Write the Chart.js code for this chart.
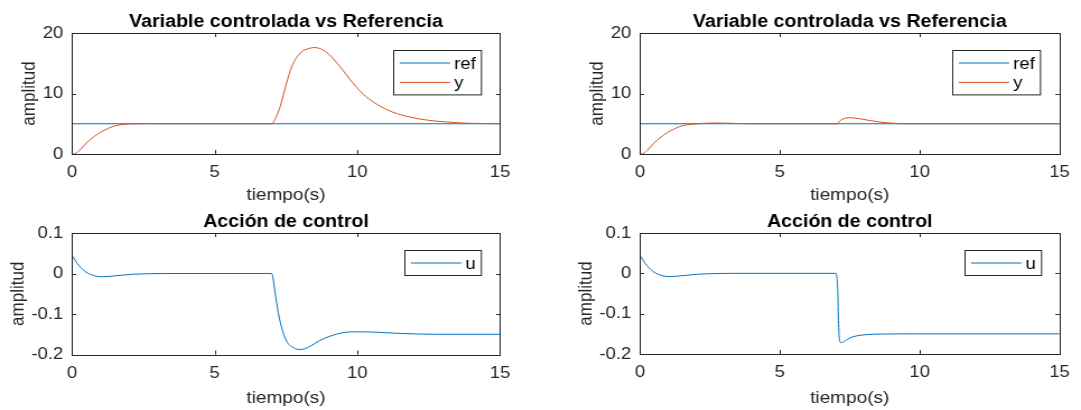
<!DOCTYPE html>
<html>
<head>
<meta charset="utf-8">
<script src="https://cdn.jsdelivr.net/npm/chart.js@4/dist/chart.umd.min.js"></script>
<style>
  body { margin: 0; background: #fff; width: 1081px; height: 410px; overflow: hidden; }
  .panel { position: absolute; transform: scaleX(1.12); transform-origin: 0 0; }
  canvas { display: block; }
</style>
</head>
<body>
<div class="panel" style="left:0;top:0"><canvas id="c1" width="482" height="207"></canvas></div>
<div class="panel" style="left:540px;top:0"><canvas id="c2" width="482" height="207"></canvas></div>
<div class="panel" style="left:0;top:207px"><canvas id="c3" width="482" height="203"></canvas></div>
<div class="panel" style="left:540px;top:207px"><canvas id="c4" width="482" height="203"></canvas></div>
<script>
// data
const refT = [0, 15];
const refY = [5, 5];

const y1T = [0, 0.1, 0.25, 0.5, 0.75, 1.0, 1.25, 1.5, 1.75, 2.0, 2.3, 2.7, 3.2, 7.0, 7.15, 7.3, 7.5, 7.7, 8.0, 8.25, 8.5, 8.75, 9.0, 9.4, 9.85, 10.3, 10.8, 11.25, 11.85, 12.45, 13.1, 13.8, 14.5, 15];
const y1 = [0, 0.05, 0.55, 1.8, 2.8, 3.6, 4.2, 4.65, 4.87, 4.97, 5.0, 5.02, 5.0, 5.0, 6.1, 7.9, 11.4, 14.4, 16.7, 17.35, 17.6, 17.3, 16.5, 14.4, 11.7, 9.5, 7.9, 6.9, 6.1, 5.6, 5.3, 5.1, 5.03, 5.0];

const y2T = [0, 0.1, 0.25, 0.5, 0.75, 1.0, 1.25, 1.5, 1.75, 2.0, 2.4, 2.8, 3.4, 4.0, 7.05, 7.15, 7.3, 7.5, 7.8, 8.2, 8.6, 9.0, 9.5, 15];
const y2 = [0, 0.05, 0.55, 1.8, 2.8, 3.6, 4.2, 4.65, 4.87, 4.98, 5.1, 5.12, 5.05, 5.0, 5.0, 5.5, 5.85, 6.0, 5.87, 5.55, 5.27, 5.1, 5.0, 5.0];

const u1T = [0, 0.25, 0.5, 0.75, 1.0, 1.3, 1.7, 2.1, 2.6, 3.2, 7.0, 7.12, 7.23, 7.35, 7.52, 7.76, 8.0, 8.34, 8.69, 9.04, 9.5, 10.0, 10.7, 11.5, 12.7, 15];
const u1 = [0.044, 0.019, 0.003, -0.005, -0.008, -0.0072, -0.0045, -0.002, -0.0007, 0, 0, -0.048, -0.097, -0.134, -0.167, -0.183, -0.188, -0.18, -0.165, -0.155, -0.146, -0.144, -0.145, -0.148, -0.15, -0.15];

const u2T = [0, 0.25, 0.5, 0.75, 1.0, 1.3, 1.7, 2.1, 2.6, 3.2, 7.0, 7.07, 7.1, 7.14, 7.19, 7.34, 7.51, 7.75, 8.1, 8.7, 10, 15];
const u2 = [0.044, 0.019, 0.003, -0.005, -0.008, -0.0072, -0.0045, -0.002, -0.0007, 0, 0, -0.042, -0.125, -0.167, -0.172, -0.167, -0.16, -0.155, -0.152, -0.1505, -0.15, -0.15];

const xTicks = [0, 5, 10, 15];
const xTickLabels = ['0', '5', '10', '15'];
const yTicksTop = [0, 10, 20];
const yTickLabelsTop = ['0', '10', '20'];
const yTicksBot = [-0.2, -0.1, 0, 0.1];
const yTickLabelsBot = ['-0.2', '-0.1', '0', '0.1'];

const blue = '#0072BD';
const orange = '#D95319';
const ink = '#262626';
const fam = '"Liberation Sans", Arial, Helvetica, sans-serif';

Chart.defaults.font.family = fam;
Chart.defaults.color = ink;

function pts(t, v) {
  return t.map((x, i) => ({x: x, y: v[i]}));
}

// box, inward ticks, title and legend drawn like the original
const framePlugin = {
  id: 'frame',
  afterDatasetsDraw(chart, args, opts) {
    const ctx = chart.ctx;
    const a = chart.chartArea;
    const sx = chart.scales.x, sy = chart.scales.y;
    ctx.save();
    ctx.strokeStyle = ink;
    ctx.lineWidth = 1;
    ctx.beginPath();
    sx.ticks.forEach(t => {
      const p = Math.round(sx.getPixelForValue(t.value)) + 0.5;
      ctx.moveTo(p, a.bottom); ctx.lineTo(p, a.bottom - 4);
      ctx.moveTo(p, a.top); ctx.lineTo(p, a.top + 4);
    });
    sy.ticks.forEach(t => {
      const p = Math.round(sy.getPixelForValue(t.value)) + 0.5;
      ctx.moveTo(a.left, p); ctx.lineTo(a.left + 3.6, p);
      ctx.moveTo(a.right, p); ctx.lineTo(a.right - 3.6, p);
    });
    ctx.stroke();
    ctx.strokeRect(Math.round(a.left) + 0.5, Math.round(a.top) + 0.5, Math.round(a.right - a.left), Math.round(a.bottom - a.top));

    ctx.fillStyle = '#000';
    ctx.font = 'bold 17.5px ' + fam;
    ctx.textAlign = 'center';
    ctx.textBaseline = 'alphabetic';
    ctx.fillText(opts.title, (a.left + a.right) / 2, a.top - 6);

    // legend
    const sets = chart.data.datasets;
    ctx.font = '16.5px ' + fam;
    let tw = 0;
    sets.forEach(d => { tw = Math.max(tw, ctx.measureText(d.label).width); });
    const w = 5.4 + 45 + 3.6 + tw + 5.1;
    const h = 25 + (sets.length - 1) * 19.4;
    const bx = Math.round(a.right - 17 - w) + 0.5;
    const by = Math.round(a.top + 17) + 0.5;
    ctx.fillStyle = '#fff';
    ctx.fillRect(bx, by, w, h);
    ctx.strokeStyle = ink;
    ctx.strokeRect(bx, by, w, h);
    ctx.textAlign = 'left';
    ctx.textBaseline = 'middle';
    sets.forEach((d, i) => {
      const ly = by + 12.5 + i * 19.4;
      ctx.strokeStyle = d.borderColor;
      ctx.lineWidth = d.borderWidth;
      ctx.beginPath();
      ctx.moveTo(bx + 5.4, ly); ctx.lineTo(bx + 50.4, ly);
      ctx.stroke();
      ctx.fillStyle = '#000';
      ctx.fillText(d.label, bx + 54, ly + 1);
    });
    ctx.restore();
  }
};

function makeChart(id, cfg) {
  const canvas = document.getElementById(id);
  const H = canvas.height, W = canvas.width;
  return new Chart(canvas, {
    type: 'line',
    data: { datasets: cfg.datasets },
    options: {
      responsive: false,
      animation: false,
      events: [],
      layout: { padding: { left: 0, top: cfg.area.top, right: W - cfg.area.right, bottom: 0 } },
      elements: { point: { radius: 0 }, line: { cubicInterpolationMode: 'monotone' } },
      plugins: {
        legend: { display: false },
        tooltip: { enabled: false },
        frame: { title: cfg.title }
      },
      scales: {
        x: {
          type: 'linear', min: 0, max: 15,
          grid: { display: false, drawTicks: false },
          border: { display: false },
          afterBuildTicks: s => { s.ticks = xTicks.map(v => ({value: v})); },
          afterFit: s => { s.height = H - cfg.area.bottom; },
          ticks: { padding: 9, font: { size: 16.5 }, color: ink, maxRotation: 0,
                   callback: (v, i) => xTickLabels[i] },
          title: { display: true, text: 'tiempo(s)', color: ink, font: { size: 17 },
                   padding: { top: 0, bottom: 1.5 } }
        },
        y: {
          type: 'linear', min: cfg.yMin, max: cfg.yMax,
          grid: { display: false, drawTicks: false },
          border: { display: false },
          afterBuildTicks: s => { s.ticks = cfg.yTicks.map(v => ({value: v})); },
          afterFit: s => { s.width = cfg.area.left; },
          ticks: { padding: 7.8, font: { size: 16.5 }, color: ink,
                   callback: (v, i) => cfg.yLabels[i] },
          title: { display: true, text: 'amplitud', color: ink, font: { size: 17 },
                   padding: { top: cfg.yTitlePad, bottom: 0 } }
        }
      }
    },
    plugins: [framePlugin]
  });
}

function ySets(t, y) {
  return [
    { label: 'ref', data: pts(refT, refY), borderColor: blue, borderWidth: 1, order: 1 },
    { label: 'y', data: pts(t, y), borderColor: orange, borderWidth: 1, order: 0 }
  ];
}

makeChart('c1', {
  title: 'Variable controlada vs Referencia',
  datasets: ySets(y1T, y1),
  yMin: 0, yMax: 20, yTicks: yTicksTop, yLabels: yTickLabelsTop,
  area: { left: 64.3, right: 446.4, top: 33, bottom: 154 },
  yTitlePad: 16.6
});
makeChart('c2', {
  title: 'Variable controlada vs Referencia',
  datasets: ySets(y2T, y2),
  yMin: 0, yMax: 20, yTicks: yTicksTop, yLabels: yTickLabelsTop,
  area: { left: 89.3, right: 469.6, top: 33, bottom: 154 },
  yTitlePad: 41.6
});
makeChart('c3', {
  title: 'Acción de control',
  datasets: [{ label: 'u', data: pts(u1T, u1), borderColor: blue, borderWidth: 1 }],
  yMin: -0.2, yMax: 0.1, yTicks: yTicksBot, yLabels: yTickLabelsBot,
  area: { left: 64.3, right: 446.4, top: 26, bottom: 147.5 },
  yTitlePad: 5.9
});
makeChart('c4', {
  title: 'Acción de control',
  datasets: [{ label: 'u', data: pts(u2T, u2), borderColor: blue, borderWidth: 1 }],
  yMin: -0.2, yMax: 0.1, yTicks: yTicksBot, yLabels: yTickLabelsBot,
  area: { left: 89.3, right: 469.6, top: 26, bottom: 147 },
  yTitlePad: 30.9
});
</script>
</body>
</html>
